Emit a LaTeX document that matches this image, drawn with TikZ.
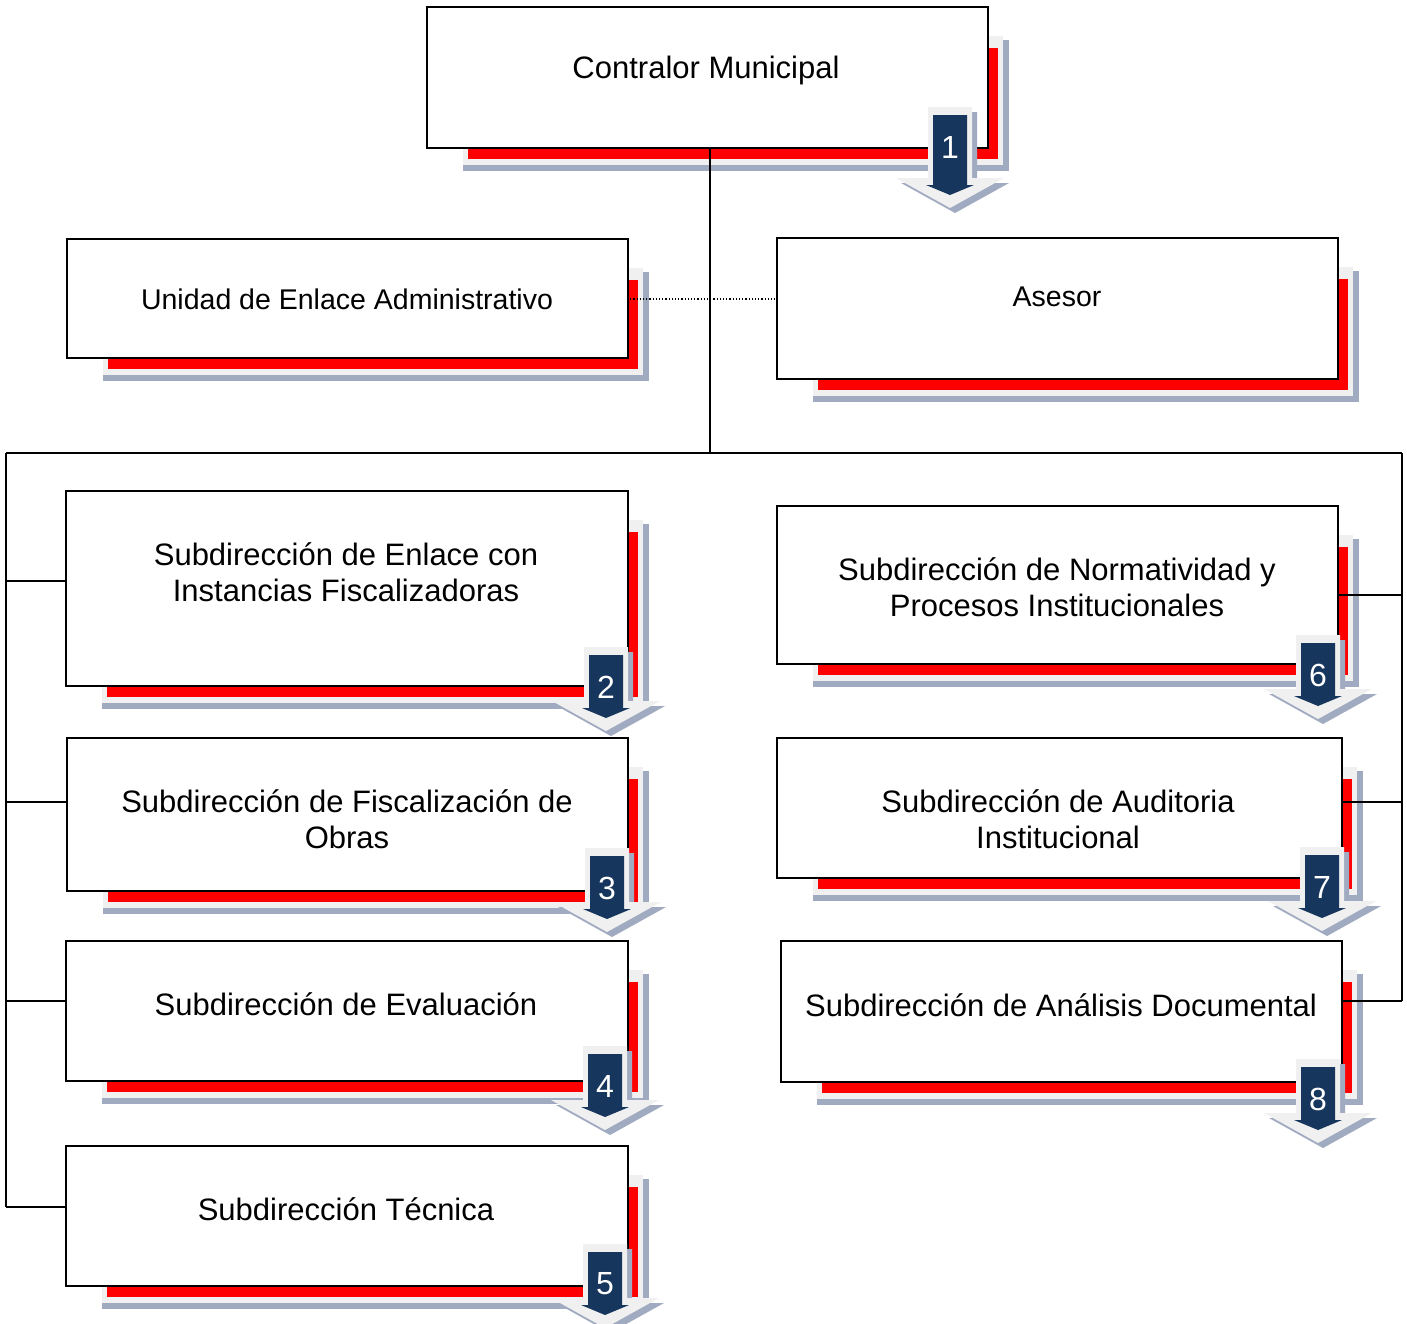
\documentclass[tikz,border=0pt]{standalone}
\usepackage{fontspec}
\setmainfont{Liberation Sans}
\definecolor{shred}{RGB}{255,0,0}
\definecolor{shlight}{RGB}{240,240,240}
\definecolor{shhatch}{RGB}{160,170,192}
\definecolor{navy}{RGB}{23,54,93}
\tikzset{
  mainbox/.style={draw=black, line width=2pt, fill=white, inner sep=0pt, anchor=north west},
  txt/.style={align=center, inner sep=0pt, font=\fontsize{31}{36}\selectfont},
  smalltxt/.style={font=\fontsize{28.5}{34}\selectfont},
  num/.style={text=white, inner sep=0pt, font=\fontsize{32}{36}\selectfont},
  conn/.style={draw=black, line width=1.6pt},
  dotconn/.style={draw=black, line width=1.2pt, dotted},
}
% name, x1, y1, x2, y2, tx, ty, text
\newcommand\obox[9][]{%
  \fill[shhatch] ({#3+37},{#4+34}) rectangle ({#5+22},{#6+24});
  \fill[shlight] ({#3+37},{#4+30}) rectangle ({#5+16},{#6+18});
  \fill[shred] ({#3+42},{#4+42}) rectangle ({#5+11},{#6+12});
  \node[mainbox, minimum width={(#5-#3)*1pt}, minimum height={(#6-#4)*1pt}] (#2) at (#3,#4) {};
  \node[txt,#1] (#2-t) at (#7,#8) {#9};
}
% name, cx, numy, number, shaft length
\newcommand\badge[5]{%
  \begin{scope}[shift={(#2,#3-40)}]
    \fill[shhatch, shift={(5,5)}] (-22,0) -- (22,0) -- (22,#5) -- (54,#5) -- (0,#5+30) -- (-54,#5) -- (-22,#5) -- cycle;
    \fill[shlight] (-22,0) -- (22,0) -- (22,#5) -- (54,#5) -- (0,#5+30) -- (-54,#5) -- (-22,#5) -- cycle;
    \fill[navy] (-17,8) -- (17,8) -- (17,#5+7) -- (24,#5+7) -- (0,#5+17) -- (-24,#5+7) -- (-17,#5+7) -- cycle;
    \node[num] (#1) at (0,40) {#4};
  \end{scope}
}
\begin{document}
\begin{tikzpicture}[x=1pt, y=-1pt]
\useasboundingbox (0,0) rectangle (1407,1323);
\fill[white] (0,0) rectangle (1407,1323);

\obox{contralor}{426}{6}{987}{147}{706}{70}{Contralor Municipal}
\obox[smalltxt]{unidad}{66}{238}{627}{357}{347}{299}{Unidad de Enlace Administrativo}
\obox[smalltxt]{asesor}{776}{237}{1337}{378}{1057}{297}{Asesor}
\obox{enlace}{65}{490}{627}{685}{346}{572}{Subdirección de Enlace con\\Instancias Fiscalizadoras}
\obox{fiscal}{66}{737}{627}{890}{347}{819}{Subdirección de Fiscalización de\\Obras}
\obox{evalua}{65}{940}{627}{1080}{346}{1004}{Subdirección de Evaluación}
\obox{tecnica}{65}{1145}{627}{1285}{346}{1209}{Subdirección Técnica}
\obox{normat}{776}{505}{1337}{663}{1057}{587}{Subdirección de Normatividad y\\Procesos Institucionales}
\obox{audit}{776}{737}{1341}{877}{1058}{819}{Subdirección de Auditoria\\Institucional}
\obox{analisis}{780}{940}{1341}{1081}{1061}{1005}{Subdirección de Análisis Documental}

% connectors
\coordinate (ctop) at (710,147);
\coordinate (cbot) at (710,453);
\coordinate (bl) at (6,453);
\coordinate (br) at (1402,453);
\coordinate (L1) at (6,581);
\coordinate (L2) at (6,802);
\coordinate (L3) at (6,1001);
\coordinate (L4) at (6,1207);
\coordinate (R1) at (1402,595);
\coordinate (R2) at (1402,802);
\coordinate (R3) at (1402,1001);
\coordinate (dotA) at (627,299);
\coordinate (dotB) at (776,299);

\draw[conn] (ctop) -- (cbot);
\draw[conn] (bl) -- (br);
\draw[conn] (bl) -- (L4);
\draw[conn] (br) -- (R3);
\draw[conn] (L1) -- (L1 -| enlace.west);
\draw[conn] (L2) -- (L2 -| fiscal.west);
\draw[conn] (L3) -- (L3 -| evalua.west);
\draw[conn] (L4) -- (L4 -| tecnica.west);
\draw[conn] (R1) -- (R1 -| normat.east);
\draw[conn] (R2) -- (R2 -| audit.east);
\draw[conn] (R3) -- (R3 -| analisis.east);
\draw[dotconn] (dotA) -- (dotB);

% badges
\badge{b1}{950}{147}{1}{71}
\badge{b2}{606}{687}{2}{54}
\badge{b3}{607}{888}{3}{54}
\badge{b4}{605}{1086}{4}{54}
\badge{b5}{605}{1284}{5}{54}
\badge{b6}{1318}{675}{6}{54}
\badge{b7}{1322}{887}{7}{54}
\badge{b8}{1318}{1099}{8}{54}
\end{tikzpicture}
\end{document}
